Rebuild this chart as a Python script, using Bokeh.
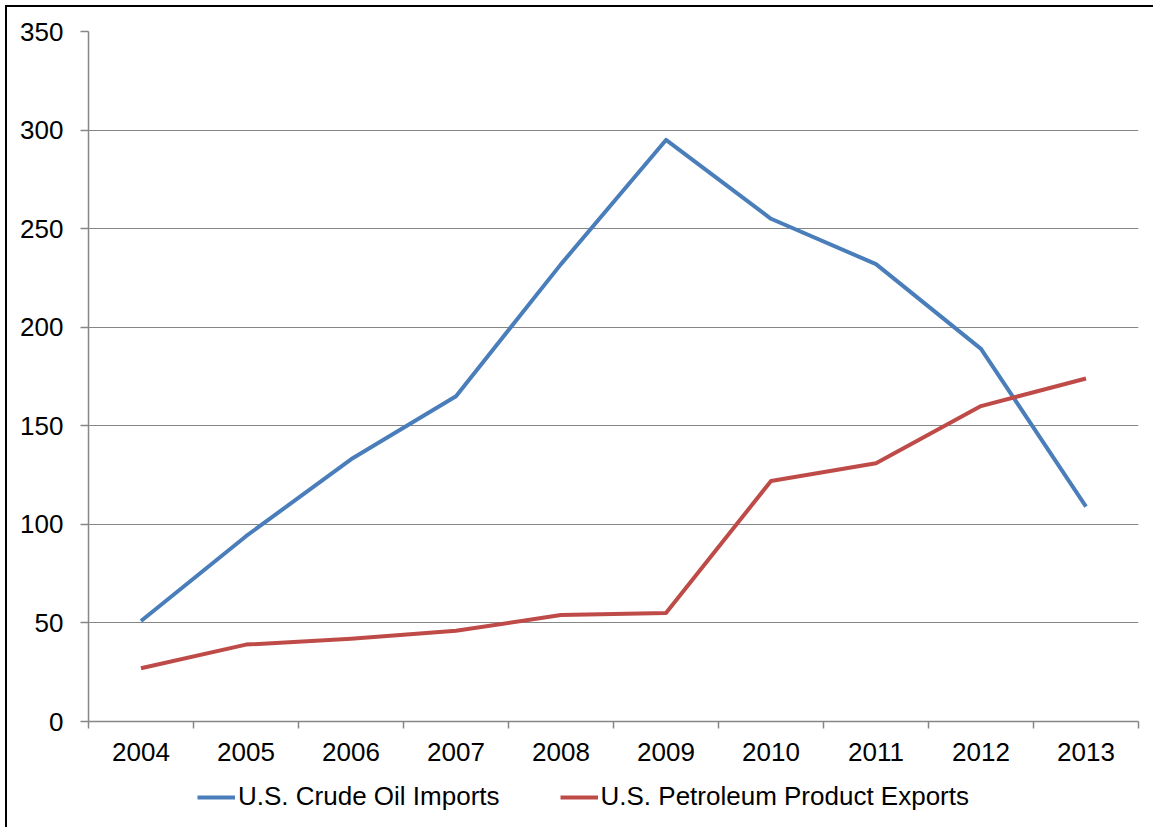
from bokeh.plotting import figure
from bokeh.layouts import column
from bokeh.models import FixedTicker, Range1d, Legend, LegendItem, ColumnDataSource
from bokeh.embed import file_html
from bokeh.resources import INLINE

years = ["2004", "2005", "2006", "2007", "2008", "2009", "2010", "2011", "2012", "2013"]
crude_imports = [51, 94, 133, 165, 232, 295, 255, 232, 189, 109]
product_exports = [27, 39, 42, 46, 54, 55, 122, 131, 160, 174]
y_ticks = [0, 50, 100, 150, 200, 250, 300, 350]
series_names = ["U.S. Crude Oil Imports", "U.S. Petroleum Product Exports"]
series_colors = ["#4A7EBB", "#BE4B48"]

idx = list(range(len(years)))
src = ColumnDataSource(dict(x=idx, imports=crude_imports, exports=product_exports))

AX = "#868686"
FONT = "Liberation Sans"
FS = "26px"
W = 1146

p = figure(frame_width=1050, frame_height=690, output_backend="svg", toolbar_location=None,
           x_range=Range1d(-0.5, len(years) - 0.5), y_range=Range1d(0, 350),
           min_border_left=81, min_border_right=15, min_border_top=24, min_border_bottom=50)
p.outline_line_color = None
p.background_fill_color = "white"
p.border_fill_color = "white"

# x axis
p.xaxis.ticker = FixedTicker(ticks=idx, minor_ticks=[i - 0.5 for i in range(len(years) + 1)])
p.xaxis.major_label_overrides = {i: y for i, y in enumerate(years)}
p.xaxis.major_tick_out = 0
p.xaxis.major_tick_in = 0
p.xaxis.minor_tick_out = 7
p.xaxis.minor_tick_in = 0
p.xaxis.minor_tick_line_color = AX
p.xaxis.axis_line_color = AX
p.xaxis.axis_line_width = 1.5
p.xaxis.minor_tick_line_width = 1.5
p.xaxis.major_label_standoff = 14
p.xaxis.major_label_text_font = FONT
p.xaxis.major_label_text_font_size = FS
p.xaxis.major_label_text_color = "black"
p.xgrid.grid_line_color = None

# y axis
p.yaxis.ticker = FixedTicker(ticks=y_ticks, minor_ticks=[])
p.yaxis.major_tick_out = 8
p.yaxis.major_tick_in = 0
p.yaxis.major_tick_line_color = AX
p.yaxis.major_tick_line_width = 1.5
p.yaxis.axis_line_color = AX
p.yaxis.axis_line_width = 1.5
p.yaxis.major_label_standoff = 17
p.yaxis.major_label_text_font = FONT
p.yaxis.major_label_text_font_size = FS
p.yaxis.major_label_text_color = "black"
p.ygrid.grid_line_color = AX
p.ygrid.grid_line_width = 1.2

p.line("x", "imports", source=src, line_color=series_colors[0], line_width=4, line_join="round")
p.line("x", "exports", source=src, line_color=series_colors[1], line_width=4, line_join="round")

# legend strip below the chart (its frame is aligned with the chart's frame by the column)
LH = 56
pl = figure(width=W, height=LH, output_backend="svg", toolbar_location=None,
            x_range=Range1d(0, 1000), y_range=Range1d(0, 100),
            min_border_left=0, min_border_right=0, min_border_top=0, min_border_bottom=0)
pl.axis.visible = False
pl.grid.grid_line_color = None
pl.outline_line_color = None
pl.background_fill_color = "white"
pl.border_fill_color = "white"
# legend proxies, kept outside the visible range
proxy = ColumnDataSource(dict(x=[-20, -10], y=[-20, -20]))
lr1 = pl.line("x", "y", source=proxy, line_color=series_colors[0], line_width=4)
lr2 = pl.line("x", "y", source=proxy, line_color=series_colors[1], line_width=4)
lg = Legend(items=[LegendItem(label=series_names[0], renderers=[lr1]),
                   LegendItem(label=series_names[1], renderers=[lr2])],
            location=(109, 15), orientation="horizontal", padding=0, margin=0, spacing=60,
            glyph_width=38, glyph_height=28, label_standoff=3,
            label_text_font=FONT, label_text_font_size=FS, label_text_color="black",
            border_line_alpha=0, background_fill_alpha=0)
pl.add_layout(lg, "center")

layout = column(p, pl, spacing=0)
layout.styles = {"margin-left": "5px", "margin-top": "5px",
                 "border-left": "2px solid black", "border-top": "2px solid black"}

open("out.html", "w").write(file_html(layout, INLINE))
